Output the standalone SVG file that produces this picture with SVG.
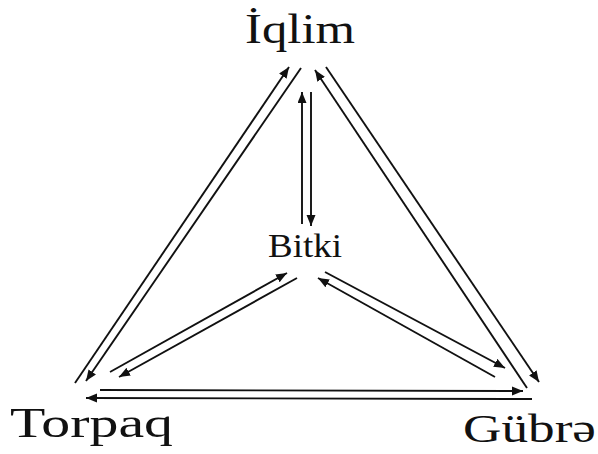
<svg xmlns="http://www.w3.org/2000/svg" width="598" height="454" viewBox="0 0 598 454">
<style>
.lbl{font-family:"Liberation Serif","Times New Roman",serif;fill:#111;}
.c line{stroke:#111;stroke-width:1.9;fill:none;marker-end:url(#ah);}
</style>
<defs>
<marker id="ah" markerUnits="userSpaceOnUse" markerWidth="13" markerHeight="10" refX="11" refY="4.5" orient="auto">
<path d="M0,0 L11,4.5 L0,9 z" fill="#111"/>
</marker>
</defs>
<rect width="598" height="454" fill="#fff"/>
<g class="c" id="connectors">
<line x1="75" y1="383" x2="289" y2="67"/>
<line x1="301" y1="68" x2="86" y2="381"/>
<line x1="326" y1="67" x2="539" y2="382"/>
<line x1="527" y1="388" x2="315" y2="70"/>
<line x1="302" y1="224" x2="302" y2="92"/>
<line x1="311" y1="92" x2="311" y2="226"/>
<line x1="110" y1="372" x2="287" y2="273"/>
<line x1="297" y1="278" x2="119" y2="377"/>
<line x1="325" y1="272" x2="505" y2="368"/>
<line x1="495" y1="377" x2="318" y2="278"/>
<line x1="100" y1="390" x2="523" y2="391"/>
<line x1="532" y1="399" x2="86" y2="398"/>
</g>
<g id="iqlim"><text class="lbl" x="245" y="43" font-size="42" textLength="110" lengthAdjust="spacingAndGlyphs">İqlim</text></g>
<g id="bitki"><text class="lbl" x="268" y="257" font-size="34" textLength="74" lengthAdjust="spacingAndGlyphs">Bitki</text></g>
<g id="torpaq"><text class="lbl" x="10" y="437" font-size="42" textLength="163" lengthAdjust="spacingAndGlyphs">Torpaq</text></g>
<g id="gubre"><text class="lbl" x="463" y="442" font-size="41" textLength="133" lengthAdjust="spacingAndGlyphs">Gübrə</text></g>
</svg>
